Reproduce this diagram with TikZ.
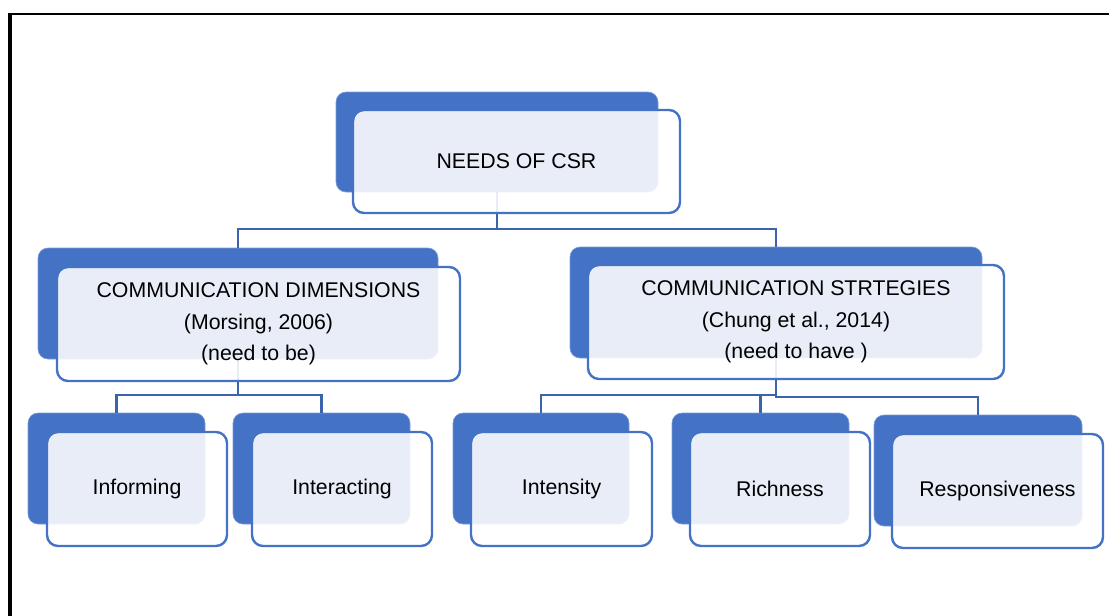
\documentclass[tikz,border=0pt]{standalone}
\usepackage{fontspec}
\setmainfont{Liberation Sans}
\definecolor{accent}{HTML}{4472C4}
\definecolor{linkc}{HTML}{3B64AD}
\tikzset{
  backbox/.style={rectangle, rounded corners=10pt, fill=accent, draw=accent!70!white, line width=0.6pt, inner sep=0pt},
  frontbox/.style={rectangle, rounded corners=11pt, draw=accent, line width=2.4pt, fill=white, fill opacity=0.88, text opacity=1, inner sep=0pt, align=center, font=\fontsize{21.3}{31.5}\selectfont},
  link/.style={draw=linkc, line width=2.2pt},
  framel/.style={draw=black}
}
\begin{document}
\begin{tikzpicture}[x=1pt,y=-1pt]
\useasboundingbox (0,0) rectangle (1109,616);
% outer frame (only top and left edges are visible)
\draw[framel, line width=4pt] (10,13.3) -- (10,620);
\draw[framel, line width=2pt] (8,14.3) -- (1112,14.3);
% back boxes
\node[backbox, minimum width=322pt, minimum height=100pt] (rootb) at (497,142) {};
\node[backbox, minimum width=400pt, minimum height=111pt] (dimb) at (238,303.5) {};
\node[backbox, minimum width=412pt, minimum height=111pt] (strb) at (776,302.5) {};
\node[backbox, minimum width=177pt, minimum height=111pt] (infb) at (116.5,468.5) {};
\node[backbox, minimum width=177pt, minimum height=111pt] (intb) at (321.5,468.5) {};
\node[backbox, minimum width=176pt, minimum height=111pt] (itsb) at (541,468.5) {};
\node[backbox, minimum width=177pt, minimum height=111pt] (ricb) at (760.5,468.5) {};
\node[backbox, minimum width=208pt, minimum height=111pt] (resb) at (978,470.5) {};
% connectors
\draw[link] (rootb.south) -- ++(0,37) -| (dimb.north);
\draw[link] (rootb.south) -- ++(0,37) -| (strb.north);
\draw[link] (dimb.south) -- ++(0,36) -| (infb.north);
\draw[link] (dimb.south) -- ++(0,36) -| (intb.north);
\draw[link] (strb.south) -- ++(0,37) -| (itsb.north);
\draw[link] (strb.south) -- ++(0,37) -| (ricb.north);
\draw[link] (strb.south) -- ++(0,39) -| (resb.north);
% front boxes with text
\node[frontbox, minimum width=327pt, minimum height=103pt] (root) at (516.5,161.5) {NEEDS OF CSR};
\node[frontbox, minimum width=403pt, minimum height=114pt] (dim) at (258.5,324) {COMMUNICATION DIMENSIONS\\(Morsing, 2006)\\(need to be)};
\node[frontbox, minimum width=416pt, minimum height=114pt] (str) at (796,322) {COMMUNICATION STRTEGIES\\(Chung et al., 2014)\\(need to have )};
\node[frontbox, minimum width=180pt, minimum height=114pt] (inf) at (137,489) {Informing};
\node[frontbox, minimum width=180pt, minimum height=114pt] (int) at (342,489) {Interacting};
\node[frontbox, minimum width=181pt, minimum height=114pt] (its) at (561.5,489) {Intensity};
\node[frontbox, minimum width=180pt, minimum height=114pt] (ric) at (780,489) {Richness};
\node[frontbox, minimum width=211pt, minimum height=114pt] (res) at (997.5,491) {Responsiveness};
\end{tikzpicture}
\end{document}
